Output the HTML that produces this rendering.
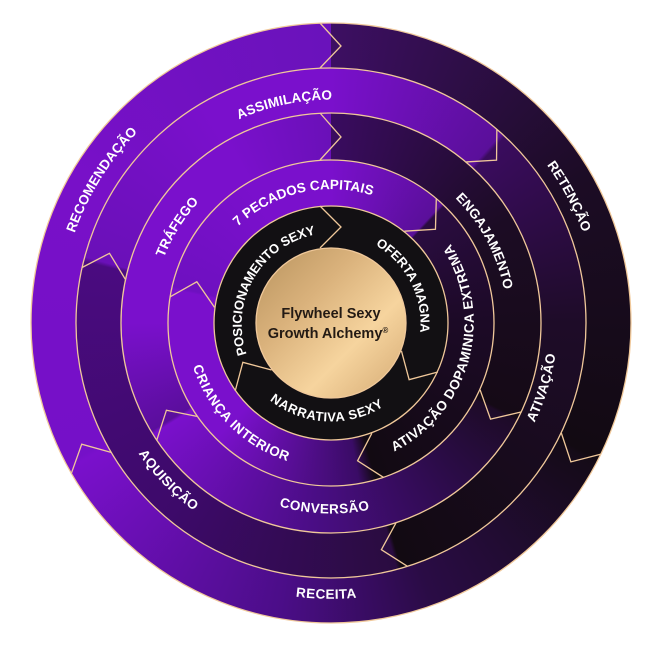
<!DOCTYPE html>
<html><head><meta charset="utf-8"><style>
html,body{margin:0;padding:0;background:#fff;}
#w{position:relative;width:659px;height:647px;overflow:hidden;}
.c{position:absolute;border-radius:50%;}
svg{position:absolute;left:0;top:0;}
text{font-family:"Liberation Sans",sans-serif;font-weight:bold;fill:#fff;font-size:13.5px;letter-spacing:0.3px;}
</style></head><body><div id="w">
<div class="c" style="left:31px;top:23px;width:600px;height:600px;background:conic-gradient(from 0deg,#3d0f63 0deg,#1c0c25 60deg,#120a12 117deg,#150b18 118deg,#2a0c45 160deg,#4b0d88 190deg,#7a10cc 241deg,#7510c8 242deg,#7810c8 300deg,#6a12bb 359deg);"></div>
<div class="c" style="left:76px;top:68px;width:510px;height:510px;background:conic-gradient(from 0deg,#7a10cc 0deg,#5a0f9a 42deg,#3a0c5e 43deg,#1e0c28 90deg,#120a12 164deg,#2a0c40 165deg,#3d0a6a 220deg,#4a0b80 284deg,#6a10b8 285deg,#7a10cc 330deg,#7a10cc 360deg);"></div>
<div class="c" style="left:121px;top:113px;width:420px;height:420px;background:conic-gradient(from 0deg,#3a0c60 0deg,#1c0c24 60deg,#150a16 117deg,#1e0b28 118deg,#2a0c45 140deg,#4a0d85 185deg,#7a10cc 238deg,#5a0e9c 239deg,#7a10cc 270deg,#7a10cc 330deg,#6a10b8 360deg);"></div>
<div class="c" style="left:168px;top:160px;width:326px;height:326px;background:conic-gradient(from 0deg,#7a10cc 0deg,#5a0f9a 43deg,#2a0c40 44deg,#1c0a26 90deg,#120a12 164deg,#3a0c66 170deg,#7a10cc 225deg,#7a10cc 282deg,#6e10c0 283deg,#7a10cc 330deg,#7a10cc 360deg);"></div>
<div class="c" style="left:214px;top:206px;width:234px;height:234px;background:#121013;"></div>
<div class="c" style="left:256px;top:248px;width:150px;height:150px;background:linear-gradient(135deg,#b8935e 0%,#dab27c 35%,#f6d49e 65%,#e2bb85 85%,#c09762 100%);"></div>
<svg width="659" height="647" viewBox="0 0 659 647">
<g fill="none" stroke="#f0c89a" stroke-width="1.3">
<circle cx="331" cy="323" r="300"/>
<circle cx="331" cy="323" r="255"/>
<circle cx="331" cy="323" r="210"/>
<circle cx="331" cy="323" r="163"/>
<circle cx="331" cy="323" r="117"/>
<circle cx="331" cy="323" r="75"/>
<g transform="translate(331,323)">
<polyline points="-11,-300 10,-277 -11,-255" transform="rotate(0)"/>
<polyline points="-11,-300 10,-277 -11,-255" transform="rotate(118)"/>
<polyline points="-11,-300 10,-277 -11,-255" transform="rotate(242)"/>
<polyline points="-11,-255 10,-232 -11,-210" transform="rotate(43)"/>
<polyline points="-11,-255 10,-232 -11,-210" transform="rotate(165)"/>
<polyline points="-11,-255 10,-232 -11,-210" transform="rotate(285)"/>
<polyline points="-11,-210 10,-186 -11,-163" transform="rotate(0)"/>
<polyline points="-11,-210 10,-186 -11,-163" transform="rotate(118)"/>
<polyline points="-11,-210 10,-186 -11,-163" transform="rotate(239)"/>
<polyline points="-11,-163 10,-140 -11,-117" transform="rotate(44)"/>
<polyline points="-11,-163 10,-140 -11,-117" transform="rotate(165)"/>
<polyline points="-11,-163 10,-140 -11,-117" transform="rotate(283)"/>
<polyline points="-11,-117 10,-96 -11,-75" transform="rotate(0)"/>
<polyline points="-11,-117 10,-96 -11,-75" transform="rotate(120)"/>
<polyline points="-11,-117 10,-96 -11,-75" transform="rotate(240)"/>
</g>
</g>
<defs>
<path id="p1" d="M184.2,557.9 A277,277 0 0 1 477.8,88.1"/>
<path id="p2" d="M104.1,371.2 A232,232 0 0 1 557.9,274.8"/>
<path id="p3" d="M201.1,78.4 A277,277 0 0 1 460.9,567.6"/>
<path id="p4" d="M232.4,480.7 A186,186 0 0 1 429.6,165.3"/>
<path id="p5" d="M243.8,158.8 A186,186 0 0 1 418.2,487.2"/>
<path id="p6" d="M194.6,354.5 A140,140 0 0 1 467.4,291.5"/>
<path id="p7" d="M283,406.1 A96,96 0 0 1 379,239.9"/>
<path id="p8" d="M287.4,237.5 A96,96 0 0 1 374.6,408.5"/>
<path id="p9" d="M237.1,318.1 A94,94 0 0 0 424.9,327.9"/>
<path id="p10" d="M294.7,458.2 A140,140 0 0 0 367.3,187.8"/>
<path id="p11" d="M230.6,222.6 A142,142 0 0 0 431.4,423.4"/>
<path id="p12" d="M169.8,156.2 A232,232 0 0 0 492.2,489.8"/>
<path id="p13" d="M145.1,316.5 A186,186 0 0 0 516.9,329.5"/>
<path id="p14" d="M54.1,318.2 A277,277 0 0 0 607.9,327.8"/>
<path id="p15" d="M264.1,541.9 A229,229 0 0 0 397.9,104.1"/>
</defs>
<text dy="4.5"><textPath href="#p1" startOffset="50%" text-anchor="middle">RECOMENDAÇÃO</textPath></text>
<text dy="4.5"><textPath href="#p2" startOffset="50%" text-anchor="middle">ASSIMILAÇÃO</textPath></text>
<text dy="4.5"><textPath href="#p3" startOffset="50%" text-anchor="middle">RETENÇÃO</textPath></text>
<text dy="4.5"><textPath href="#p4" startOffset="50%" text-anchor="middle">TRÁFEGO</textPath></text>
<text dy="4.5"><textPath href="#p5" startOffset="50%" text-anchor="middle">ENGAJAMENTO</textPath></text>
<text dy="4.5"><textPath href="#p6" startOffset="50%" text-anchor="middle">7 PECADOS CAPITAIS</textPath></text>
<text dy="4.5" style="font-size:13px"><textPath href="#p7" startOffset="50%" text-anchor="middle">POSICIONAMENTO SEXY</textPath></text>
<text dy="4.5" style="font-size:13px"><textPath href="#p8" startOffset="50%" text-anchor="middle">OFERTA MAGNA</textPath></text>
<text dy="4.5" style="font-size:13px"><textPath href="#p9" startOffset="50%" text-anchor="middle">NARRATIVA SEXY</textPath></text>
<text dy="4.5"><textPath href="#p10" startOffset="50%" text-anchor="middle">ATIVAÇÃO DOPAMINICA EXTREMA</textPath></text>
<text dy="4.5"><textPath href="#p11" startOffset="50%" text-anchor="middle">CRIANÇA INTERIOR</textPath></text>
<text dy="4.5"><textPath href="#p12" startOffset="50%" text-anchor="middle">AQUISIÇÃO</textPath></text>
<text dy="4.5"><textPath href="#p13" startOffset="50%" text-anchor="middle">CONVERSÃO</textPath></text>
<text dy="4.5"><textPath href="#p14" startOffset="50%" text-anchor="middle">RECEITA</textPath></text>
<text dy="4.5"><textPath href="#p15" startOffset="50%" text-anchor="middle">ATIVAÇÃO</textPath></text>
<text x="331" y="318" text-anchor="middle" style="fill:#231a14;font-size:14.5px;letter-spacing:0">Flywheel Sexy</text>
<text x="328" y="338" text-anchor="middle" style="fill:#231a14;font-size:14.5px;letter-spacing:0">Growth Alchemy<tspan dy="-5" style="font-size:8px">®</tspan></text>
</svg>
</div></body></html>
